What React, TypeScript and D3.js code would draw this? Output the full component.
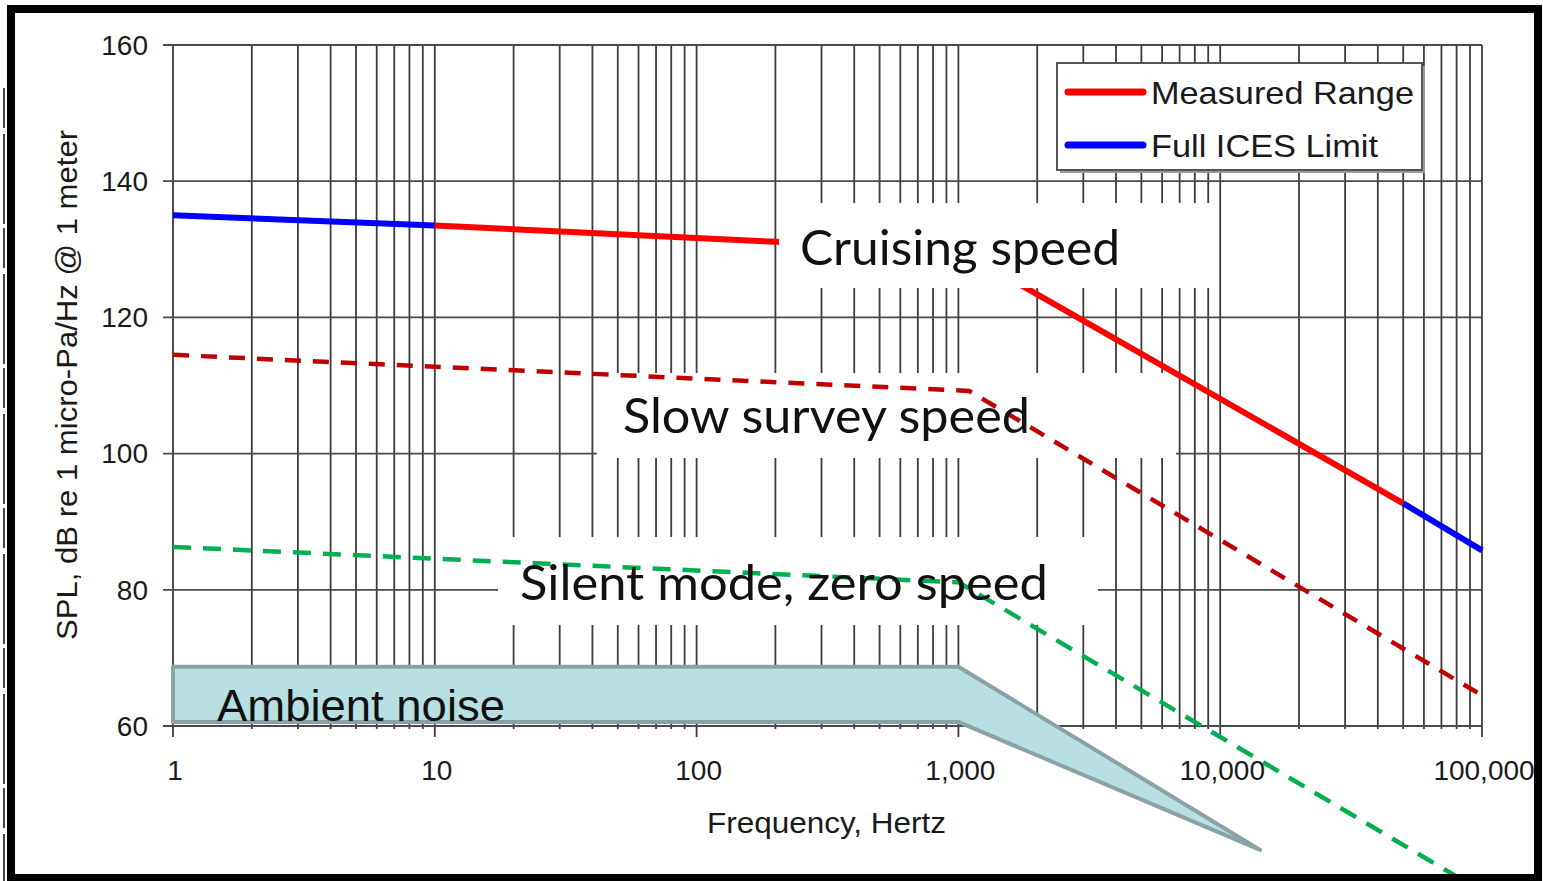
import React from 'react';
import * as d3 from 'd3';

// ---- data ----
const yTicks = [60, 80, 100, 120, 140, 160];
const xTickValues = [1, 10, 100, 1000, 10000, 100000];
const xTickLabels = ['1', '10', '100', '1,000', '10,000', '100,000'];

const cruisingFreq = [1, 10, 200, 1000, 50000, 100000];
const cruisingLevel = [135, 133.5, 131.1, 130, 92.7, 85.8];
const measuredRange = [10, 50000];

const slowFreq = [1, 1100, 100000];
const slowLevel = [114.5, 109.2, 64.5];

const silentFreq = [1, 1000, 100000];
const silentLevel = [86.3, 81.1, 35.7];

const ambientFreq = [1, 1000, 14200];
const ambientUpper = [68.7, 68.7, 41.8];
const ambientLower = [60.6, 60.6, 41.8];

const legendItems = ['Measured Range', 'Full ICES Limit'];
const legendColors = ['#ff0000', '#0000ff'];

const W = 1543;
const H = 881;

export default function App() {
  const x = d3.scaleLog().domain([1, 100000]).range([173, 1482]);
  const y = d3.scaleLinear().domain([60, 160]).range([726, 45]);

  const line = d3
    .line<[number, number]>()
    .x((d) => x(d[0]))
    .y((d) => y(d[1]));

  const pts = (f: number[], v: number[]) => f.map((d, i) => [d, v[i]] as [number, number]);
  const cruise = pts(cruisingFreq, cruisingLevel);
  const lowIces = cruise.filter((d) => d[0] <= measuredRange[0]);
  const measured = cruise.filter((d) => d[0] >= measuredRange[0] && d[0] <= measuredRange[1]);
  const highIces = cruise.filter((d) => d[0] >= measuredRange[1]);

  const gridFreqs: number[] = [];
  for (let e = 0; e < 5; e++) for (let m = 1; m <= 9; m++) gridFreqs.push(m * Math.pow(10, e));
  gridFreqs.push(100000);

  const ambientPoly = [
    ...pts(ambientFreq, ambientUpper),
    ...pts(ambientFreq, ambientLower).reverse(),
  ];
  const ambientPath = line(ambientPoly) + 'Z';

  const sans = "'Liberation Sans', Arial, sans-serif";
  const cal = "Lato, 'Open Sans', sans-serif";
  const textCol = '#1a1a1a';

  return (
    <svg
      width={W}
      height={H}
      style={{ position: 'absolute', left: 0, top: 0, background: '#fff' }}
    >
      <rect x={0} y={0} width={W} height={H} fill="#fff" />

      {/* grid */}
      {gridFreqs.map((f, i) => (
        <line
          key={'v' + i}
          x1={x(f)}
          x2={x(f)}
          y1={y(160)}
          y2={xTickValues.includes(f) ? y(60) + 11 : y(60) + 3}
          stroke="#3c3c3c"
          strokeWidth={1.8}
        />
      ))}
      {yTicks.map((t) => (
        <line
          key={'h' + t}
          x1={163}
          x2={x(100000)}
          y1={y(t)}
          y2={y(t)}
          stroke="#4a4a4a"
          strokeWidth={1.8}
        />
      ))}

      {/* label boxes under dashed lines */}
      <rect x={597} y={373} width={579} height={85} fill="#fff" />
      <rect x={498} y={537} width={600} height={88} fill="#fff" />

      {/* ambient noise */}
      <path d={ambientPath} fill="#b8dfe2" stroke="#8aa2a5" strokeWidth={4} strokeLinejoin="round" />

      {/* dashed lines */}
      <path
        d={line(pts(slowFreq, slowLevel)) || ''}
        fill="none"
        stroke="#c00000"
        strokeWidth={4.5}
        strokeDasharray="16 12"
      />
      <path
        d={line(pts(silentFreq, silentLevel)) || ''}
        fill="none"
        stroke="#00b050"
        strokeWidth={4.5}
        strokeDasharray="18 12"
      />

      {/* cruising speed */}
      <path d={line(lowIces) || ''} fill="none" stroke="#0000ff" strokeWidth={6} />
      <path d={line(measured) || ''} fill="none" stroke="#ff0000" strokeWidth={6} />
      <path d={line(highIces) || ''} fill="none" stroke="#0000ff" strokeWidth={6} />

      {/* cruising label box hides the line */}
      <rect x={779} y={203} width={440} height={85} fill="#fff" />

      {/* axis labels */}
      {yTicks.map((t) => (
        <text
          key={'yl' + t}
          x={148}
          y={y(t)}
          dy="0.35em"
          textAnchor="end"
          fontFamily={sans}
          fontSize={28}
          fill={textCol}
        >
          {t}
        </text>
      ))}
      {xTickValues.map((v, i) => (
        <text
          key={'xl' + v}
          x={x(v) + 2}
          y={780}
          textAnchor="middle"
          fontFamily={sans}
          fontSize={28}
          fill={textCol}
        >
          {xTickLabels[i]}
        </text>
      ))}
      <text
        x={707}
        y={833}
        fontFamily={sans}
        fontSize={29}
        fill={textCol}
        textLength={239}
        lengthAdjust="spacingAndGlyphs"
      >
        Frequency, Hertz
      </text>
      <text
        transform="translate(77,385) rotate(-90)"
        textAnchor="middle"
        fontFamily={sans}
        fontSize={30}
        fill={textCol}
        textLength={510}
        lengthAdjust="spacingAndGlyphs"
      >
        SPL, dB re 1 micro-Pa/Hz @ 1 meter
      </text>

      {/* annotation texts */}
      <text x={800} y={265} fontFamily={cal} fontSize={49} fill="#111" textLength={320} lengthAdjust="spacingAndGlyphs">
        Cruising speed
      </text>
      <text x={623} y={433} fontFamily={cal} fontSize={49} fill="#111" textLength={407} lengthAdjust="spacingAndGlyphs">
        Slow survey speed
      </text>
      <text x={520} y={600} fontFamily={cal} fontSize={49} fill="#111" textLength={528} lengthAdjust="spacingAndGlyphs">
        Silent mode, zero speed
      </text>
      <text x={217} y={721} fontFamily={sans} fontSize={45} fill="#111" textLength={288} lengthAdjust="spacingAndGlyphs">
        Ambient noise
      </text>

      {/* legend */}
      <rect x={1060} y={66} width={365} height={107} fill="#9a9a9a" />
      <rect x={1057} y={63} width={365} height={107} fill="#fff" stroke="#555" strokeWidth={2} />
      {legendItems.map((name, i) => (
        <g key={name}>
          <line
            x1={1068}
            x2={1143}
            y1={92 + i * 53}
            y2={92 + i * 53}
            stroke={legendColors[i]}
            strokeWidth={7}
            strokeLinecap="round"
          />
          <text
            x={1151}
            y={104 + i * 53}
            fontFamily={sans}
            fontSize={32}
            fill={textCol}
            textLength={i === 0 ? 263 : 227}
            lengthAdjust="spacingAndGlyphs"
          >
            {name}
          </text>
        </g>
      ))}

      {/* frame */}
      <line x1={4} x2={4} y1={88} y2={H} stroke="#444" strokeWidth={2} strokeDasharray="40 6 90 4" />
      <rect x={11} y={9} width={1527} height={869} fill="none" stroke="#000" strokeWidth={8} />
    </svg>
  );
}
